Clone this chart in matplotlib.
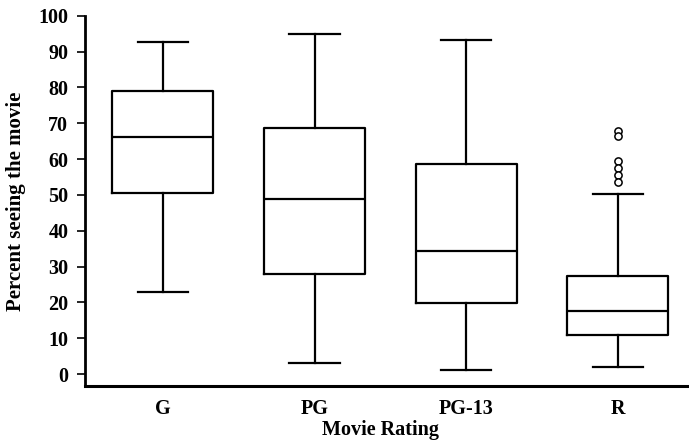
import matplotlib.pyplot as plt
import numpy as np

# percent of people who saw each movie, summarised by rating
ratings = ['G', 'PG', 'PG-13', 'R']
whisker_low = [22.8, 3.2, 1.1, 1.9]
quart1 = [50.6, 27.9, 19.9, 10.8]
medians = [66.2, 48.8, 34.4, 17.7]
quart3 = [79.0, 68.8, 58.5, 27.5]
whisker_high = [92.6, 94.8, 93.1, 50.4]
outliers_R = [67.9, 66.4, 59.5, 57.5, 55.5, 53.5]
outliers = [[], [], [], outliers_R]

plt.rcParams['font.family'] = ['Liberation Serif', 'DejaVu Serif']
plt.rcParams['font.weight'] = 'bold'

stats = []
for i in range(len(ratings)):
    stats.append({'label': ratings[i], 'whislo': whisker_low[i], 'q1': quart1[i],
                  'med': medians[i], 'q3': quart3[i], 'whishi': whisker_high[i],
                  'fliers': outliers[i]})

fig = plt.figure(figsize=(6.89, 4.41), dpi=100)
ax = fig.add_axes([0.1234, 0.1247, 0.8766, 0.8397])

lw = 1.6
ax.bxp(stats, positions=np.arange(1, 5), widths=0.666,
       boxprops=dict(color='black', linewidth=lw),
       medianprops=dict(color='black', linewidth=lw),
       whiskerprops=dict(color='black', linewidth=lw),
       capprops=dict(color='black', linewidth=lw),
       capwidths=0.333,
       flierprops=dict(marker='o', markersize=5.2, markerfacecolor='white',
                       markeredgecolor='black', markeredgewidth=1.1))

ax.set_xlim(0.486, 4.47)
ax.set_ylim(-3.3, 100)
ax.set_yticks(np.arange(0, 101, 10))

for s in ['top', 'right']:
    ax.spines[s].set_visible(False)
ax.spines['left'].set_linewidth(2)
ax.spines['bottom'].set_linewidth(2.2)

ax.tick_params(axis='y', length=6, width=1.2, pad=6, labelsize=14.5)
ax.tick_params(axis='x', length=0, pad=9, labelsize=14.5)

ax.set_ylabel('Percent seeing the movie', fontsize=15, fontweight='bold')
ax.yaxis.set_label_coords(-0.097, 0.5)
ax.set_xlabel('Movie Rating', fontsize=14.5, fontweight='bold')
ax.xaxis.set_label_coords(0.49, -0.092)

fig.savefig('out.png', dpi=100)
